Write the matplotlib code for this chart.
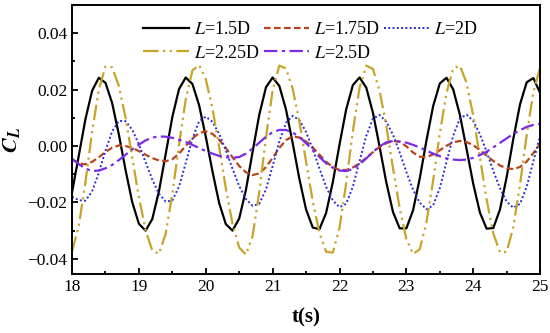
import numpy as np
import matplotlib
matplotlib.use('Agg')
import matplotlib.pyplot as plt
from matplotlib.ticker import MultipleLocator

# time axis (s), one sample every 0.1 s
t = np.round(np.arange(18.0, 25.0001, 0.1), 1)

cl_15 = [-0.0164, -0.0035, 0.0095, 0.0196, 0.0242, 0.0224, 0.0152, 0.0041, -0.0085, -0.0199,
         -0.0276, -0.0300, -0.0259, -0.0160, -0.0029, 0.0103, 0.0202, 0.0243, 0.0220, 0.0145,
         0.0033, -0.0090, -0.0202, -0.0277, -0.0300, -0.0257, -0.0156, -0.0021, 0.0111, 0.0208,
         0.0243, 0.0213, 0.0129, 0.0010, -0.0117, -0.0225, -0.0289, -0.0295, -0.0237, -0.0128,
         0.0005, 0.0130, 0.0216, 0.0243, 0.0207, 0.0118, -0.0003, -0.0129, -0.0234, -0.0292,
         -0.0292, -0.0228, -0.0115, 0.0019, 0.0141, 0.0222, 0.0242, 0.0201, 0.0111, -0.0010,
         -0.0134, -0.0236, -0.0293, -0.0291, -0.0225, -0.0110, 0.0026, 0.0148, 0.0226, 0.0241,
         0.0188]

cl_175 = [-0.0046, -0.0062, -0.0065, -0.0056, -0.0040, -0.0021, -0.0006, 0.0002, 0.0000, -0.0007,
          -0.0018, -0.0031, -0.0043, -0.0051, -0.0054, -0.0047, -0.0027, 0.0000, 0.0027, 0.0046,
          0.0052, 0.0043, 0.0022, -0.0007, -0.0040, -0.0071, -0.0093, -0.0103, -0.0097, -0.0075,
          -0.0042, -0.0007, 0.0021, 0.0034, 0.0030, 0.0016, -0.0005, -0.0031, -0.0056, -0.0075,
          -0.0085, -0.0085, -0.0076, -0.0061, -0.0042, -0.0022, -0.0003, 0.0010, 0.0018, 0.0015,
          -0.0001, -0.0023, -0.0038, -0.0039, -0.0030, -0.0015, 0.0001, 0.0013, 0.0018, 0.0014,
          0.0003, -0.0014, -0.0034, -0.0053, -0.0069, -0.0079, -0.0082, -0.0074, -0.0055, -0.0025,
          0.0007]

cl_20 = [-0.0180, -0.0192, -0.0194, -0.0161, -0.0095, -0.0016, 0.0052, 0.0089, 0.0088, 0.0058,
         0.0006, -0.0057, -0.0119, -0.0169, -0.0197, -0.0193, -0.0144, -0.0061, 0.0026, 0.0088,
         0.0104, 0.0086, 0.0043, -0.0015, -0.0081, -0.0142, -0.0188, -0.0212, -0.0205, -0.0154,
         -0.0071, 0.0016, 0.0082, 0.0107, 0.0092, 0.0050, -0.0011, -0.0080, -0.0145, -0.0193,
         -0.0217, -0.0205, -0.0144, -0.0054, 0.0036, 0.0097, 0.0110, 0.0086, 0.0040, -0.0023,
         -0.0092, -0.0155, -0.0201, -0.0224, -0.0211, -0.0149, -0.0057, 0.0036, 0.0098, 0.0111,
         0.0089, 0.0042, -0.0020, -0.0088, -0.0150, -0.0197, -0.0219, -0.0205, -0.0144, -0.0054,
         0.0036]

cl_225 = [-0.0374, -0.0284, -0.0128, 0.0050, 0.0200, 0.0282, 0.0279, 0.0213, 0.0100, -0.0041,
          -0.0182, -0.0299, -0.0371, -0.0382, -0.0311, -0.0169, 0.0005, 0.0165, 0.0268, 0.0287,
          0.0237, 0.0134, -0.0004, -0.0150, -0.0276, -0.0360, -0.0385, -0.0319, -0.0164, 0.0030,
          0.0198, 0.0285, 0.0275, 0.0203, 0.0086, -0.0055, -0.0196, -0.0309, -0.0375, -0.0378,
          -0.0290, -0.0131, 0.0053, 0.0207, 0.0285, 0.0273, 0.0196, 0.0071, -0.0078, -0.0221,
          -0.0330, -0.0383, -0.0366, -0.0271, -0.0123, 0.0044, 0.0188, 0.0275, 0.0285, 0.0224,
          0.0107, -0.0040, -0.0190, -0.0310, -0.0377, -0.0375, -0.0287, -0.0136, 0.0040, 0.0191,
          0.0279]

cl_25 = [-0.0046, -0.0064, -0.0080, -0.0089, -0.0087, -0.0079, -0.0067, -0.0050, -0.0031, -0.0012,
         0.0005, 0.0020, 0.0030, 0.0034, 0.0033, 0.0029, 0.0022, 0.0014, 0.0004, -0.0007,
         -0.0018, -0.0027, -0.0035, -0.0040, -0.0042, -0.0039, -0.0027, -0.0009, 0.0012, 0.0033,
         0.0049, 0.0057, 0.0057, 0.0048, 0.0032, 0.0010, -0.0014, -0.0039, -0.0061, -0.0077,
         -0.0087, -0.0089, -0.0081, -0.0065, -0.0044, -0.0021, -0.0001, 0.0013, 0.0018, 0.0016,
         0.0012, 0.0004, -0.0005, -0.0016, -0.0027, -0.0036, -0.0044, -0.0048, -0.0050, -0.0048,
         -0.0042, -0.0032, -0.0020, -0.0005, 0.0011, 0.0027, 0.0043, 0.0056, 0.0068, 0.0075,
         0.0079]

labels = ['1.5D', '1.75D', '2D', '2.25D', '2.5D']

plt.rcParams['font.family'] = 'Liberation Serif'
plt.rcParams['mathtext.fontset'] = 'stix'

fig = plt.figure(figsize=(5.5, 3.33), dpi=100)
ax = fig.add_axes([0.131, 0.177, 0.851, 0.808])

h1, = ax.plot(t, cl_15, color='black', lw=1.6, ls='-')
h2, = ax.plot(t, cl_175, color='#B8451C', lw=1.6, ls=(0, (3, 1.5)))
h3, = ax.plot(t, cl_20, color='#2B2BE0', lw=1.4, ls=(0, (1, 1.2)))
h4, = ax.plot(t, cl_225, color='#C8A42A', lw=1.6, ls=(0, (7, 2, 1, 2, 1, 2)))
h5, = ax.plot(t, cl_25, color='#7A2BE8', lw=1.6, ls=(0, (6, 2, 1.5, 2)))

names = [r'$\mathit{L}$=' + s for s in labels]
handles = [h1, h4, h2, h5, h3]
order = [0, 3, 1, 4, 2]
ax.legend(handles, [names[i] for i in order], ncol=3, loc='upper center',
          bbox_to_anchor=(0.51, 1.0), frameon=False, fontsize=13,
          handlelength=2.5, handletextpad=0.3, columnspacing=0.2,
          labelspacing=0.35, borderpad=0.4)

ax.set_xlim(18, 25)
ax.set_ylim(-0.0454, 0.05)
ax.xaxis.set_major_locator(MultipleLocator(1))
ax.xaxis.set_minor_locator(MultipleLocator(0.5))
ax.yaxis.set_major_locator(MultipleLocator(0.02))
ax.yaxis.set_minor_locator(MultipleLocator(0.01))
ax.set_yticks([-0.04, -0.02, 0.0, 0.02, 0.04])
ax.set_yticklabels(['\u22120.04', '\u22120.02', '0.00', '0.02', '0.04'])
ax.tick_params(which='both', direction='in', top=False, right=False, labelsize=12.5, width=1.3)
ax.tick_params(which='major', length=4)
ax.tick_params(which='minor', length=2.5)
for sp in ax.spines.values():
    sp.set_linewidth(1.4)

ax.set_xlabel('t(s)', fontsize=15, fontweight='bold', labelpad=9)
ax.set_ylabel(r'$\mathbfit{C}_{\mathbfit{L}}$', fontsize=16, labelpad=4)

fig.savefig('out.png', dpi=100)
